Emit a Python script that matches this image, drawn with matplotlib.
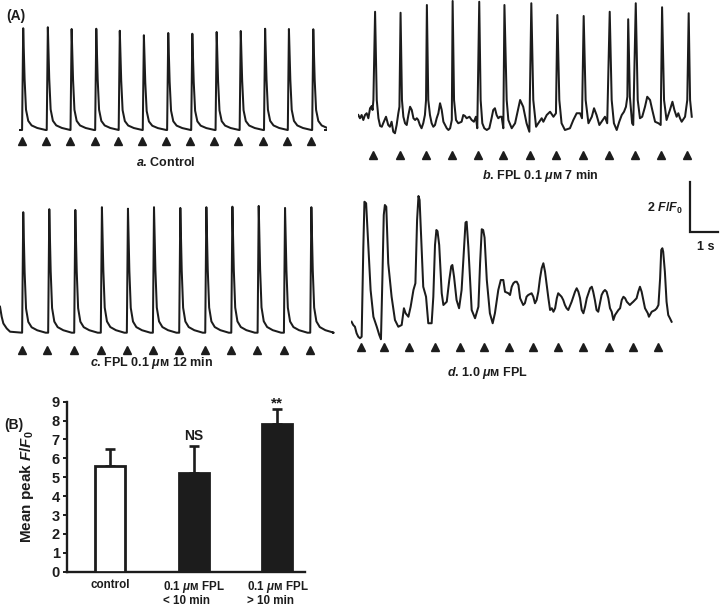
import numpy as np
import matplotlib
matplotlib.use("Agg")
import matplotlib.pyplot as plt

plt.rcParams['font.family'] = ['Liberation Sans', 'DejaVu Sans']
plt.rcParams['font.weight'] = 'bold'
plt.rcParams['mathtext.fontset'] = 'custom'
plt.rcParams['mathtext.rm'] = 'Liberation Sans:bold'
plt.rcParams['mathtext.it'] = 'Liberation Sans:italic:bold'
plt.rcParams['mathtext.bf'] = 'Liberation Sans:bold'

INK = '#1c1c1c'

# ---- data: calcium transients (time in s, fluorescence in F/F0) ----
# shared transient shape for the regular traces (a, c)
spike_offsets = [-0.04, 0.0, 0.05, 0.10, 0.18, 0.30, 0.50, 0.80]
spike_shape = [0.0, 1.0, 0.50, 0.20, 0.09, 0.045, 0.02, 0.0]

# a. control
a_peak_t = [0.15, 1.03, 1.88, 2.76, 3.60, 4.46, 5.33, 6.19, 7.06, 7.92, 8.79, 9.64, 10.51]
a_peak_amp = [4.07, 4.11, 4.04, 4.05, 3.97, 3.79, 3.88, 3.85, 3.92, 3.96, 4.05, 4.04, 4.03]
a_stim = [0.12, 0.98, 1.83, 2.70, 3.54, 4.40, 5.26, 6.11, 6.96, 7.83, 8.71, 9.58, 10.44]
a_end = 10.93

# c. FPL 0.1 uM 12 min
c_lead_t = [0.0, 0.06, 0.12, 0.24, 0.36]
c_lead_f = [2.04, 1.64, 1.37, 1.17, 1.04]
c_peak_t = [0.83, 1.76, 2.69, 3.64, 4.57, 5.50, 6.44, 7.37, 8.30, 9.24, 10.18, 11.12]
c_peak_amp = [4.82, 4.94, 4.91, 5.02, 4.96, 5.02, 4.99, 5.02, 5.04, 5.07, 4.99, 5.02]
c_stim = [0.80, 1.69, 2.64, 3.60, 4.52, 5.45, 6.39, 7.32, 8.25, 9.19, 10.13, 11.06]
c_end = 11.9

# b. FPL 0.1 uM 7 min
b_t = [0.01, 0.07, 0.13, 0.19, 0.25, 0.31, 0.37, 0.43, 0.49, 0.52, 0.55, 0.61, 0.67, 0.73,
       0.79, 0.85, 0.90, 1.00, 1.08, 1.14, 1.20, 1.26, 1.32, 1.38, 1.44, 1.48, 1.52, 1.57,
       1.62, 1.68, 1.74, 1.80, 1.86, 1.92, 1.98, 2.04, 2.10, 2.15, 2.21, 2.27, 2.33, 2.39,
       2.43, 2.46, 2.51, 2.57, 2.63, 2.69, 2.75, 2.81, 2.87, 2.93, 2.99, 3.05, 3.11, 3.17,
       3.23, 3.29, 3.35, 3.38, 3.43, 3.50, 3.58, 3.70, 3.76, 3.82, 3.88, 3.98, 4.06, 4.14,
       4.21, 4.26, 4.33, 4.38, 4.44, 4.51, 4.60, 4.69, 4.77, 4.83, 4.89, 4.95, 5.01, 5.07,
       5.13, 5.19, 5.23, 5.31, 5.37, 5.49, 5.61, 5.79, 5.90, 6.02, 6.12, 6.19, 6.26, 6.36,
       6.44, 6.56, 6.62, 6.74, 6.86, 6.98, 7.07, 7.12, 7.19, 7.27, 7.39, 7.57, 7.69, 7.81,
       7.93, 8.00, 8.06, 8.13, 8.23, 8.35, 8.43, 8.52, 8.62, 8.70, 8.82, 8.90, 8.99, 9.06,
       9.14, 9.24, 9.33, 9.42, 9.50, 9.57, 9.62, 9.65, 9.71, 9.79, 9.83, 9.92, 9.99, 10.07,
       10.15, 10.25, 10.33, 10.43, 10.51, 10.61, 10.73, 10.81, 10.86, 10.93, 11.02, 11.14,
       11.23, 11.30, 11.38, 11.44, 11.50, 11.56, 11.68, 11.76, 11.81, 11.86, 11.92]
b_f = [1.52, 1.39, 1.52, 1.32, 1.52, 1.59, 1.39, 1.79, 1.88, 1.72, 2.12, 5.65, 2.12, 1.39,
       1.08, 1.05, 1.19, 1.45, 1.12, 1.05, 1.25, 0.85, 0.79, 1.12, 1.59, 1.85, 5.61, 2.12,
       1.45, 1.19, 1.12, 1.52, 1.85, 1.72, 1.39, 1.32, 1.39, 1.32, 1.12, 0.99, 1.19, 1.52,
       2.12, 5.92, 2.12, 1.52, 1.19, 1.05, 1.12, 1.39, 1.59, 1.99, 1.72, 1.25, 1.12, 0.99,
       0.92, 0.99, 1.32, 6.08, 2.12, 1.32, 1.19, 1.25, 1.52, 1.48, 1.39, 1.45, 1.32, 1.25,
       1.45, 0.99, 6.05, 2.12, 1.19, 0.99, 0.92, 0.99, 1.39, 1.72, 1.79, 1.52, 1.39, 1.45,
       1.45, 0.99, 5.92, 2.12, 1.32, 0.99, 1.19, 2.12, 1.85, 1.19, 0.85, 5.99, 2.12, 1.05,
       1.19, 1.39, 1.25, 1.52, 1.65, 1.45, 1.59, 5.52, 2.12, 1.19, 0.92, 0.99, 1.32, 1.59,
       1.59, 1.39, 5.48, 2.12, 1.19, 1.45, 1.79, 1.52, 1.12, 1.25, 1.45, 1.19, 5.65, 2.12,
       1.19, 0.92, 1.25, 1.52, 1.65, 1.85, 2.25, 5.35, 2.25, 1.19, 1.12, 5.99, 2.12, 1.39,
       1.45, 1.85, 2.25, 2.12, 1.72, 1.25, 1.19, 1.12, 5.83, 2.12, 1.32, 1.72,
       2.05, 1.72, 1.45, 1.59, 1.39, 1.25, 1.45, 2.12, 5.59, 2.12, 1.45]
b_stim = [0.55, 1.50, 2.43, 3.36, 4.28, 5.19, 6.14, 7.07, 8.02, 8.95, 9.88, 10.81, 11.76]

# d. 1.0 uM FPL
d_t = [0.02, 0.08, 0.14, 0.20, 0.26, 0.32, 0.38, 0.44, 0.48, 0.54, 0.62, 0.70, 0.80, 0.92,
       1.01, 1.07, 1.12, 1.17, 1.21, 1.26, 1.33, 1.45, 1.57, 1.69, 1.81, 1.89, 1.95, 2.05,
       2.13, 2.23, 2.30, 2.36, 2.41, 2.45, 2.51, 2.58, 2.68, 2.76, 2.88, 2.94, 3.00, 3.05,
       3.09, 3.15, 3.24, 3.30, 3.42, 3.51, 3.58, 3.62, 3.68, 3.77, 3.86, 3.95, 4.04, 4.09,
       4.13, 4.19, 4.31, 4.43, 4.55, 4.61, 4.67, 4.72, 4.77, 4.85, 4.96, 5.06, 5.14, 5.26,
       5.35, 5.44, 5.50, 5.62, 5.68, 5.74, 5.80, 5.86, 5.92, 5.98, 6.04, 6.15, 6.21, 6.27,
       6.33, 6.45, 6.51, 6.57, 6.63, 6.69, 6.75, 6.81, 6.87, 6.93, 6.99, 7.05, 7.11, 7.17,
       7.23, 7.29, 7.35, 7.40, 7.46, 7.52, 7.58, 7.64, 7.70, 7.76, 7.88, 8.00, 8.06, 8.12,
       8.18, 8.24, 8.30, 8.36, 8.42, 8.54, 8.60, 8.65, 8.71, 8.77, 8.83, 8.89, 8.95, 9.01,
       9.07, 9.13, 9.19, 9.25, 9.31, 9.37, 9.43, 9.55, 9.61, 9.67, 9.73, 9.79, 9.85, 9.90,
       9.96, 10.02, 10.08, 10.14, 10.20, 10.26, 10.32, 10.38, 10.44, 10.50, 10.60, 10.64,
       10.74, 10.86, 10.92, 10.98, 11.04, 11.08, 11.12, 11.15, 11.21, 11.27, 11.33, 11.39,
       11.45]
d_f = [1.53, 1.40, 1.33, 1.07, 0.93, 0.87, 0.93, 4.50, 6.33, 6.27, 4.53, 2.80, 1.73, 1.33,
       1.00, 0.83, 3.20, 5.80, 6.20, 6.13, 3.87, 2.53, 1.60, 1.33, 1.40, 2.07, 1.87, 1.73,
       2.13, 2.80, 3.07, 5.60, 6.56, 6.40, 4.80, 2.93, 2.53, 1.47, 1.47, 2.53, 4.60, 5.20,
       5.15, 4.60, 2.67, 2.20, 2.33, 3.20, 3.75, 3.80, 3.33, 2.40, 2.07, 2.80, 4.53, 5.50,
       5.53, 4.53, 2.00, 1.67, 2.13, 3.87, 5.23, 5.20, 4.90, 3.20, 1.87, 1.47, 1.87, 2.80,
       3.20, 3.20, 2.73, 2.67, 2.60, 2.93, 3.07, 3.13, 3.13, 3.00, 2.47, 2.20, 2.27, 2.53,
       2.60, 2.67, 2.53, 2.27, 2.40, 2.73, 3.27, 3.67, 3.87, 3.53, 3.00, 2.47, 2.00, 2.07,
       1.93, 2.07, 2.47, 2.67, 2.60, 2.53, 2.40, 2.20, 2.07, 2.00, 2.33, 2.73, 2.87, 2.73,
       2.47, 2.00, 1.87, 2.13, 2.47, 2.87, 2.93, 2.73, 2.40, 2.00, 1.93, 2.27, 2.60, 2.73,
       2.80, 2.73, 2.47, 2.07, 1.93, 1.60, 1.80, 2.00, 2.07, 2.40, 2.53, 2.47, 2.33, 2.27,
       2.20, 2.27, 2.33, 2.40, 2.47, 2.73, 2.93, 2.73, 2.40, 2.07, 1.87, 1.73,
       1.93, 2.00, 2.07, 2.20, 3.27, 4.40, 4.47, 4.33, 3.53, 2.33, 1.80, 1.67,
       1.53]
d_stim = [0.36, 1.18, 2.08, 3.00, 3.89, 4.75, 5.65, 6.51, 7.40, 8.30, 9.20, 10.06, 10.98]

# ---- data: panel B ----
groups = ['control', '0.1 $\\mu$ᴍ FPL\n< 10 min', '0.1 $\\mu$ᴍ FPL\n> 10 min']
peak_mean = [5.6, 5.21, 7.8]
peak_sem = [0.9, 1.44, 0.83]
bar_colors = ['white', INK, INK]
sig_marks = ['', 'NS', '**']

# ---- layout helpers (figure is 720 x 609 px) ----
W, H = 720, 609
PX_S, PX_F = 28.0, 25.0   # pixels per second / per F/F0 unit

fig = plt.figure(figsize=(7.2, 6.09), dpi=100)


def trace_axes(x0, ybase, tspan, flo, fhi):
    ytop = ybase - PX_F * (fhi - 1)
    ybot = ybase - PX_F * (flo - 1)
    ax = fig.add_axes([x0 / W, 1 - ybot / H, PX_S * tspan / W, (ybot - ytop) / H])
    ax.set_xlim(0, tspan)
    ax.set_ylim(flo, fhi)
    ax.axis('off')
    return ax


def regular_trace(peak_t, peak_amp, end, lead_t=(0.0,), lead_f=(1.0,)):
    t = list(lead_t)
    f = list(lead_f)
    for pt, amp in zip(peak_t, peak_amp):
        t += [pt + o for o in spike_offsets]
        f += [1 + amp * s for s in spike_shape]
    t.append(end)
    f.append(1.0)
    return np.array(t), np.array(f)


def stim_marks(ax, stim, level):
    ax.plot(stim, [level] * len(stim), ls='none', marker='^', ms=5.8,
            color=INK, clip_on=False)


def ftext(x, y, s, **kw):
    fig.text(x / W, 1 - y / H, s, color=INK, fontweight='bold', **kw)


LW = 1.45

# a
ax_a = trace_axes(19, 130, 11.0, 0.3, 5.4)
ta, fa = regular_trace(a_peak_t, a_peak_amp, a_end)
ax_a.plot(ta, fa, color=INK, lw=LW)
stim_marks(ax_a, a_stim, 0.56)

# b
ax_b = trace_axes(358, 128, 12.2, -0.3, 6.2)
ax_b.plot(b_t, b_f, color=INK, lw=LW)
stim_marks(ax_b, b_stim, -0.08)

# c
ax_c = trace_axes(0, 332.7, 12.0, 0.2, 6.3)
tc, fc = regular_trace(c_peak_t, c_peak_amp, c_end, c_lead_t, c_lead_f)
ax_c.plot(tc, fc, color=INK, lw=LW)
stim_marks(ax_c, c_stim, 0.31)

# d with scale bar (2 F/F0, 1 s)
ax_d = trace_axes(351, 335, 13.5, 0.3, 7.4)
ax_d.plot(d_t, d_f, color=INK, lw=LW)
stim_marks(ax_d, d_stim, 0.53)
ax_d.plot([12.11, 12.11, 13.11], [7.12, 5.12, 5.12], color=INK, lw=1.6,
          clip_on=False, solid_joinstyle='miter')

# labels for panel A
ftext(6, 16, '(A)', fontsize=10, va='center', ha='left')
ftext(166, 162, '$a$. Control', fontsize=9, ha='center', va='center')
ftext(540, 176, '$b$. FPL 0.1 $\\mu$ᴍ 7 min', fontsize=9, ha='center', va='center')
ftext(151, 363, '$c$. FPL 0.1 $\\mu$ᴍ 12 min', fontsize=9, ha='center', va='center')
ftext(487, 373, '$d$. 1.0 $\\mu$ᴍ FPL', fontsize=9, ha='center', va='center')
ftext(683, 208, '2 $F$/$F_0$', fontsize=9, ha='right', va='center')
ftext(706, 247, '1 s', fontsize=9, ha='center', va='center')
ftext(14, 425, '(B)', fontsize=10, ha='center', va='center')

# panel B: bar chart
bx0, bx1, by0, by1 = 66.7, 305, 401.7, 571.7
axb = fig.add_axes([bx0 / W, 1 - by1 / H, (bx1 - bx0) / W, (by1 - by0) / H])
xpos = np.arange(len(groups))
axb.bar(xpos, peak_mean, width=0.36, color=bar_colors, edgecolor=INK, lw=2, zorder=3)
axb.errorbar(xpos, peak_mean, yerr=[[0] * len(xpos), peak_sem], fmt='none',
             ecolor=INK, elinewidth=1.9, capsize=3.5, capthick=1.9, zorder=2)
for x, m, e, s in zip(xpos, peak_mean, peak_sem, sig_marks):
    if s == 'NS':
        axb.text(x, m + e + 0.55, s, ha='center', va='center', fontsize=10,
                 fontweight='bold', color=INK)
    elif s:
        axb.text(x, m + e + 0.3, s, ha='center', va='center', fontsize=11,
                 fontweight='bold', color=INK)
axb.set_xlim(-0.52, 2.33)
axb.set_ylim(0, 9)
axb.set_yticks(range(10))
axb.set_xticks(xpos)
axb.set_xticklabels(groups, fontsize=8.4, fontweight='bold', multialignment='left',
                    linespacing=1.05)
axb.tick_params(axis='x', length=0, pad=5, colors=INK)
axb.tick_params(axis='y', direction='out', length=3, width=1.4, pad=2,
                labelsize=10.5, colors=INK)
for lab in axb.get_yticklabels():
    lab.set_fontweight('bold')
for side in ['top', 'right']:
    axb.spines[side].set_visible(False)
for side in ['left', 'bottom']:
    axb.spines[side].set_linewidth(1.7)
    axb.spines[side].set_color(INK)
axb.set_ylabel('Mean peak $F$/$F_0$', fontsize=11, fontweight='bold', color=INK)
axb.yaxis.set_label_coords(-0.13, 0.5)

fig.savefig('out.png', dpi=100)
